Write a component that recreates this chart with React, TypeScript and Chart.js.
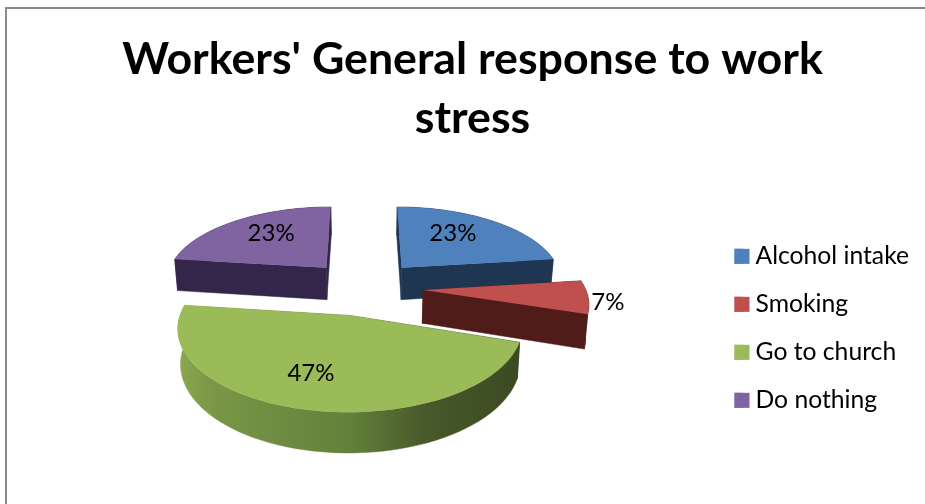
import React, { useEffect, useRef } from "react";
import { Chart, registerables } from "chart.js";

Chart.register(...registerables);

const categories = ["Alcohol intake", "Smoking", "Go to church", "Do nothing"];
const shares = [23, 7, 47, 23];
const topColors = ["#4F81BD", "#C0504D", "#9BBB59", "#8064A2"];
const wallColors = ["#1F3652", "#4F1C1A", "", "#33264A"];
const titleLines = ["Workers' General response to work", "stress"];
const explode = 0.365;

const CX = 364, CY = 287.5, R = 162, KR = 74.5, P = 0.14, H = 33, Q = 0.985;

function project(u: number, v: number, depth = 0) {
  const s = 1 / (1 - P * v);
  const q = depth ? Q : 1;
  return { x: CX + u * R * s * q, y: CY + v * KR * s + depth * s };
}

const pie3d = {
  id: "pie3d",
  beforeDraw(chart: any) {
    const { ctx, width, height } = chart;
    ctx.save();
    ctx.fillStyle = "#fff";
    ctx.fillRect(0, 0, width, height);
    ctx.fillStyle = "#8c8c8c";
    ctx.fillRect(5, 7, width - 5, 2);
    ctx.fillRect(5, 7, 2, height - 7);
    ctx.restore();
  },
  beforeDatasetsDraw(chart: any) {
    const { ctx } = chart;
    const labelRadius = [0.6, 1.07, 0.68, 0.6];
    const labelNudge = [[-5, -5], [8, 5], [-10, -3], [1, -5]];
    const meta = chart.getDatasetMeta(0);
    const slices = meta.data.map((el: any, i: number) => {
      const a0 = el.startAngle + Math.PI / 2;
      const a1 = el.endAngle + Math.PI / 2;
      const mid = (a0 + a1) / 2;
      return { i, a0, a1, mid, ou: explode * Math.sin(mid), ov: -explode * Math.cos(mid) };
    });
    const order = [...slices].sort((a: any, b: any) => a.ov - b.ov);
    const pts = (s: any, depth: number) => {
      const out: any[] = [];
      const n = 60;
      for (let k = 0; k <= n; k++) {
        const t = s.a0 + ((s.a1 - s.a0) * k) / n;
        out.push(project(s.ou + Math.sin(t), s.ov - Math.cos(t), depth));
      }
      return out;
    };
    const poly = (list: any[]) => {
      ctx.beginPath();
      list.forEach((p: any, k: number) => (k ? ctx.lineTo(p.x, p.y) : ctx.moveTo(p.x, p.y)));
      ctx.closePath();
    };
    ctx.save();
    for (const s of order) {
      const top = pts(s, 0);
      const low = pts(s, H);
      const apexT = project(s.ou, s.ov, 0);
      const apexB = project(s.ou, s.ov, H);
      let wall: any = wallColors[s.i];
      if (!wall) {
        wall = ctx.createLinearGradient(180, 0, 520, 0);
        wall.addColorStop(0, "#8AA650");
        wall.addColorStop(0.1, "#7A9646");
        wall.addColorStop(0.5, "#64803A");
        wall.addColorStop(0.72, "#48592A");
        wall.addColorStop(1, "#3B4A22");
      }
      ctx.fillStyle = wall;
      ctx.strokeStyle = wall;
      ctx.lineWidth = 0.5;
      poly([...top, ...[...low].reverse()]);
      ctx.fill(); ctx.stroke();
      poly([apexT, top[0], low[0], apexB]);
      ctx.fill(); ctx.stroke();
      poly([apexT, top[top.length - 1], low[low.length - 1], apexB]);
      ctx.fill(); ctx.stroke();
      ctx.fillStyle = topColors[s.i];
      poly([apexT, ...top]);
      ctx.fill();
    }
    ctx.font = "24px Lato";
    ctx.fillStyle = "#000";
    ctx.textAlign = "center";
    ctx.textBaseline = "middle";
    const total = shares.reduce((a, b) => a + b, 0);
    for (const s of slices) {
      const rf = labelRadius[s.i];
      const p = project(s.ou + rf * Math.sin(s.mid), s.ov - rf * Math.cos(s.mid));
      ctx.fillText(
        Math.round((100 * shares[s.i]) / total) + "%",
        p.x + labelNudge[s.i][0],
        p.y + labelNudge[s.i][1]
      );
    }
    ctx.restore();
    return false;
  },
  afterDraw(chart: any) {
    const { ctx, legend } = chart;
    ctx.save();
    legend.legendHitBoxes.forEach((b: any, i: number) => {
      ctx.fillStyle = topColors[i];
      ctx.fillRect(b.left, b.top + b.height / 2 - 7.5, 15, 15);
    });
    ctx.restore();
  },
};

export default function App() {
  const ref = useRef<HTMLCanvasElement>(null);
  useEffect(() => {
    const chart = new Chart(ref.current!, {
      type: "pie",
      data: {
        labels: categories,
        datasets: [{ data: shares, backgroundColor: topColors, borderWidth: 0 }],
      },
      options: {
        animation: false,
        responsive: false,
        devicePixelRatio: 1,
        layout: { padding: { left: 26, right: 6, top: 0, bottom: 68 } },
        plugins: {
          title: {
            display: true,
            text: titleLines,
            color: "#000",
            font: { family: "Lato", size: 44.7, weight: "bold", lineHeight: 1.32 },
            padding: { top: 30, bottom: 10 },
          },
          legend: {
            position: "right",
            align: "end",
            labels: {
              boxWidth: 8.65,
              boxHeight: 15,
              padding: 23.3,
              color: "#000",
              font: { family: "Lato", size: 24.7 },
            },
          },
          tooltip: { enabled: false },
        },
      },
      plugins: [pie3d],
    } as any);
    return () => chart.destroy();
  }, []);
  return (
    <div style={{ position: "fixed", left: 0, top: 0, width: 925, height: 504 }}>
      <canvas ref={ref} width={925} height={504} style={{ display: "block" }} />
    </div>
  );
}
